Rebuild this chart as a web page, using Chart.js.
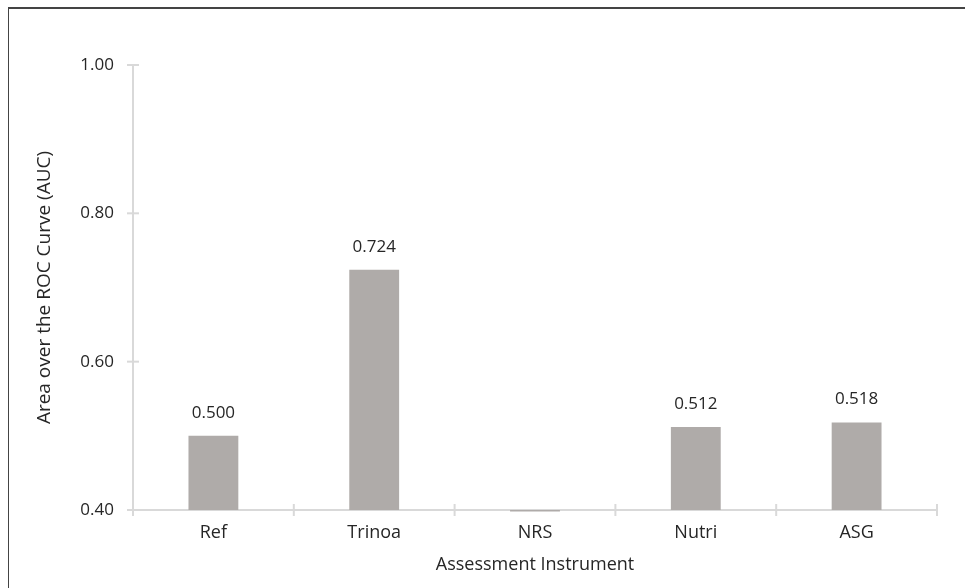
<!DOCTYPE html>
<html>
<head>
<meta charset="utf-8">
<script src="https://cdn.jsdelivr.net/npm/chart.js@4"></script>
<style>
  html, body { margin: 0; padding: 0; background: #fff; }
  #wrap { position: relative; width: 965px; height: 588px; }
  #frame { position: absolute; left: 8px; top: 7px; right: 0; bottom: 0;
           border-top: 2px solid #444; border-left: 1px solid #444; }
  canvas { position: absolute; left: 0; top: 0; }
</style>
</head>
<body>
<div id="wrap">
  <div id="frame"></div>
  <canvas id="chart_auc" width="965" height="588"></canvas>
</div>
<script>
"use strict";

// データ
const instruments = ['Ref', 'Trinoa', 'NRS', 'Nutri', 'ASG'];
const auc_values  = [0.500, 0.724, 0.398, 0.512, 0.518];
const y_ticks     = [0.40, 0.60, 0.80, 1.00];

const txt_col  = '#262626',
      axis_col = '#d9d9d9',
      bar_col  = '#afaba9',
      fnt      = '"Open Sans", "Noto Sans", sans-serif';

Chart.defaults.font.family = fnt;
Chart.defaults.color       = txt_col;

// 値ラベル + 軸の目盛り（十字）
const deco = {
  id: 'deco',
  afterDatasetsDraw(chart) {
    const ctx = chart.ctx,
          xs  = chart.scales.x,
          ys  = chart.scales.y,
          meta = chart.getDatasetMeta(0);

    ctx.save();
    ctx.font = '17px ' + fnt;
    ctx.fillStyle = txt_col;
    ctx.textAlign = 'center';
    ctx.textBaseline = 'alphabetic';
    meta.data.forEach((bar, i) => {
      const v = auc_values[i];
      if (v < ys.min) return; // 表示しない
      ctx.fillText(v.toFixed(3), bar.x, bar.y - 18);
    });

    ctx.strokeStyle = axis_col;
    ctx.lineWidth = 2;
    // y
    y_ticks.forEach(t => {
      const py = ys.getPixelForValue(t);
      ctx.beginPath();
      ctx.moveTo(xs.left - 6, py);
      ctx.lineTo(xs.left + 6, py);
      ctx.stroke();
    });
    // x (区切り)
    const step = (xs.right - xs.left) / instruments.length;
    for (let c = 0; c <= instruments.length; c++) {
      const px = xs.left + step * c;
      ctx.beginPath();
      ctx.moveTo(px, ys.bottom - 6);
      ctx.lineTo(px, ys.bottom + 6);
      ctx.stroke();
    }
    ctx.restore();
  }
};

const ctx = document.getElementById('chart_auc');
let chart = new Chart(ctx, {
  type: 'bar',
  data: {
    labels: instruments,
    datasets: [{
      data: auc_values,
      base: 0.4,
      backgroundColor: bar_col,
      categoryPercentage: 1,
      barPercentage: 0.31,
      clip: false,
    }],
  },
  options: {
    responsive: false,
    animation: false,
    layout: { padding: { left: 18, top: 65, right: 28, bottom: 0 } },
    plugins: { legend: { display: false }, tooltip: { enabled: false } },
    scales: {
      x: {
        grid: { display: false, drawTicks: false },
        border: { display: true, color: axis_col, width: 2 },
        ticks: { padding: 12, font: { size: 18 }, color: txt_col },
        title: { display: true, text: 'Assessment Instrument',
                 font: { size: 18 }, color: txt_col, padding: { top: 0, bottom: 12 } },
        afterFit(s) { s.height = 78; },
      },
      y: {
        min: 0.4, max: 1.0,
        afterBuildTicks(s) { s.ticks = y_ticks.map(v => ({ value: v })); },
        grid: { display: false, drawTicks: false },
        border: { display: true, color: axis_col, width: 2 },
        ticks: { padding: 19, font: { size: 17 }, color: txt_col,
                 callback: v => Number(v).toFixed(2) },
        title: { display: true, text: 'Area over the ROC Curve (AUC)',
                 font: { size: 19 }, color: txt_col, padding: { top: 15, bottom: 0 } },
        afterFit(s) { s.width = 115; },
      },
    },
  },
  plugins: [deco],
});
</script>
</body>
</html>
